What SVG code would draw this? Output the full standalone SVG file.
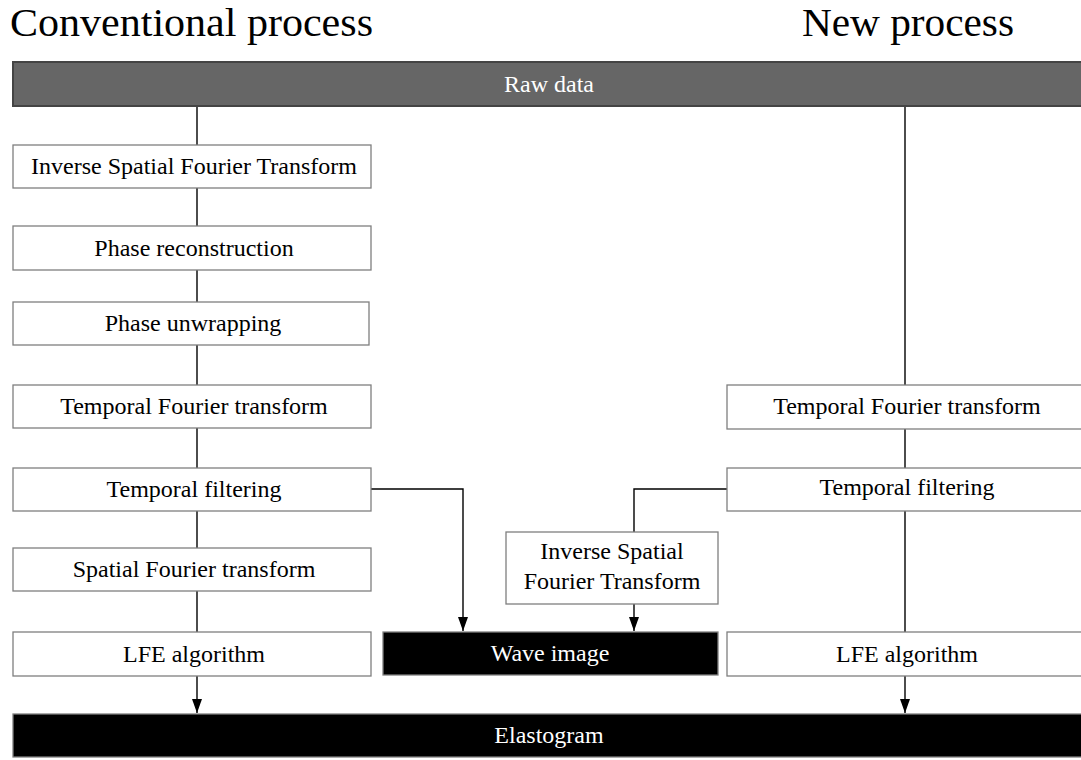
<svg xmlns="http://www.w3.org/2000/svg" width="1081" height="760" viewBox="0 0 1081 760">
<style>
text{font-family:"Liberation Serif","Times New Roman",serif;}
.box{fill:#fff;stroke:#7f7f7f;stroke-width:1.3;}
.lbl{font-size:24px;fill:#000;text-anchor:middle;}
.wl{font-size:24px;fill:#fff;text-anchor:middle;}
.title{font-size:41px;fill:#000;}
.ln{stroke:#000;stroke-width:1.4;fill:none;}
</style>
<defs>
<marker id="ahd" viewBox="0 0 14 10" refX="14" refY="5" markerWidth="14" markerHeight="10" markerUnits="userSpaceOnUse" orient="auto">
<path d="M0,0 L14,5 L0,10 Z" fill="#000"/>
</marker>
</defs>
<rect width="1081" height="760" fill="#fff"/>
<text class="title" x="10" y="36" textLength="363" lengthAdjust="spacingAndGlyphs">Conventional process</text>
<text class="title" x="802" y="36" textLength="212" lengthAdjust="spacingAndGlyphs">New process</text>
<g id="connectors">
<line class="ln" x1="197" y1="106" x2="197" y2="145"/>
<line class="ln" x1="197" y1="188" x2="197" y2="226"/>
<line class="ln" x1="197" y1="270" x2="197" y2="302"/>
<line class="ln" x1="197" y1="345" x2="197" y2="385"/>
<line class="ln" x1="197" y1="428" x2="197" y2="468"/>
<line class="ln" x1="197" y1="511" x2="197" y2="548"/>
<line class="ln" x1="197" y1="591" x2="197" y2="632"/>
<line class="ln" x1="197" y1="676" x2="197" y2="713" marker-end="url(#ahd)"/>
<line class="ln" x1="905" y1="106" x2="905" y2="385"/>
<line class="ln" x1="905" y1="429" x2="905" y2="468"/>
<line class="ln" x1="905" y1="511" x2="905" y2="632"/>
<line class="ln" x1="905" y1="676" x2="905" y2="713" marker-end="url(#ahd)"/>
<polyline class="ln" points="371,489 463,489 463,631" marker-end="url(#ahd)"/>
<polyline class="ln" points="727,489 634,489 634,532"/>
<line class="ln" x1="634" y1="604" x2="634" y2="631" marker-end="url(#ahd)"/>
</g>
<g id="raw-data">
<rect x="13" y="62" width="1080" height="44" fill="#666" stroke="#444" stroke-width="2"/>
<text class="wl" x="549" y="92">Raw data</text>
</g>
<g id="isft-left">
<rect class="box" x="13" y="145" width="358" height="43"/>
<text class="lbl" x="194" y="174">Inverse Spatial Fourier Transform</text>
</g>
<g id="phase-reconstruction">
<rect class="box" x="13" y="226" width="358" height="44"/>
<text class="lbl" x="194" y="256">Phase reconstruction</text>
</g>
<g id="phase-unwrapping">
<rect class="box" x="13" y="302" width="356" height="43"/>
<text class="lbl" x="193" y="331">Phase unwrapping</text>
</g>
<g id="tft-left">
<rect class="box" x="13" y="385" width="358" height="43"/>
<text class="lbl" x="194" y="414">Temporal Fourier transform</text>
</g>
<g id="tf-left">
<rect class="box" x="13" y="468" width="358" height="43"/>
<text class="lbl" x="194" y="497">Temporal filtering</text>
</g>
<g id="sft-left">
<rect class="box" x="13" y="548" width="358" height="43"/>
<text class="lbl" x="194" y="577">Spatial Fourier transform</text>
</g>
<g id="lfe-left">
<rect class="box" x="13" y="632" width="358" height="44"/>
<text class="lbl" x="194" y="662">LFE algorithm</text>
</g>
<g id="tft-right">
<rect class="box" x="727" y="385" width="358" height="44"/>
<text class="lbl" x="907" y="414">Temporal Fourier transform</text>
</g>
<g id="tf-right">
<rect class="box" x="727" y="468" width="358" height="43"/>
<text class="lbl" x="907" y="495">Temporal filtering</text>
</g>
<g id="lfe-right">
<rect class="box" x="727" y="632" width="358" height="44"/>
<text class="lbl" x="907" y="662">LFE algorithm</text>
</g>
<g id="isft-mid">
<rect class="box" x="506" y="532" width="212" height="72"/>
<text class="lbl" x="612" y="559">Inverse Spatial</text>
<text class="lbl" x="612" y="589">Fourier Transform</text>
</g>
<g id="wave-image">
<rect x="383" y="632" width="335" height="43" fill="#000" stroke="#7f7f7f" stroke-width="1.3"/>
<text class="wl" x="550" y="661">Wave image</text>
</g>
<g id="elastogram">
<rect x="13" y="714" width="1080" height="43" fill="#000" stroke="#7f7f7f" stroke-width="1.3"/>
<text class="wl" x="549" y="743">Elastogram</text>
</g>
</svg>
